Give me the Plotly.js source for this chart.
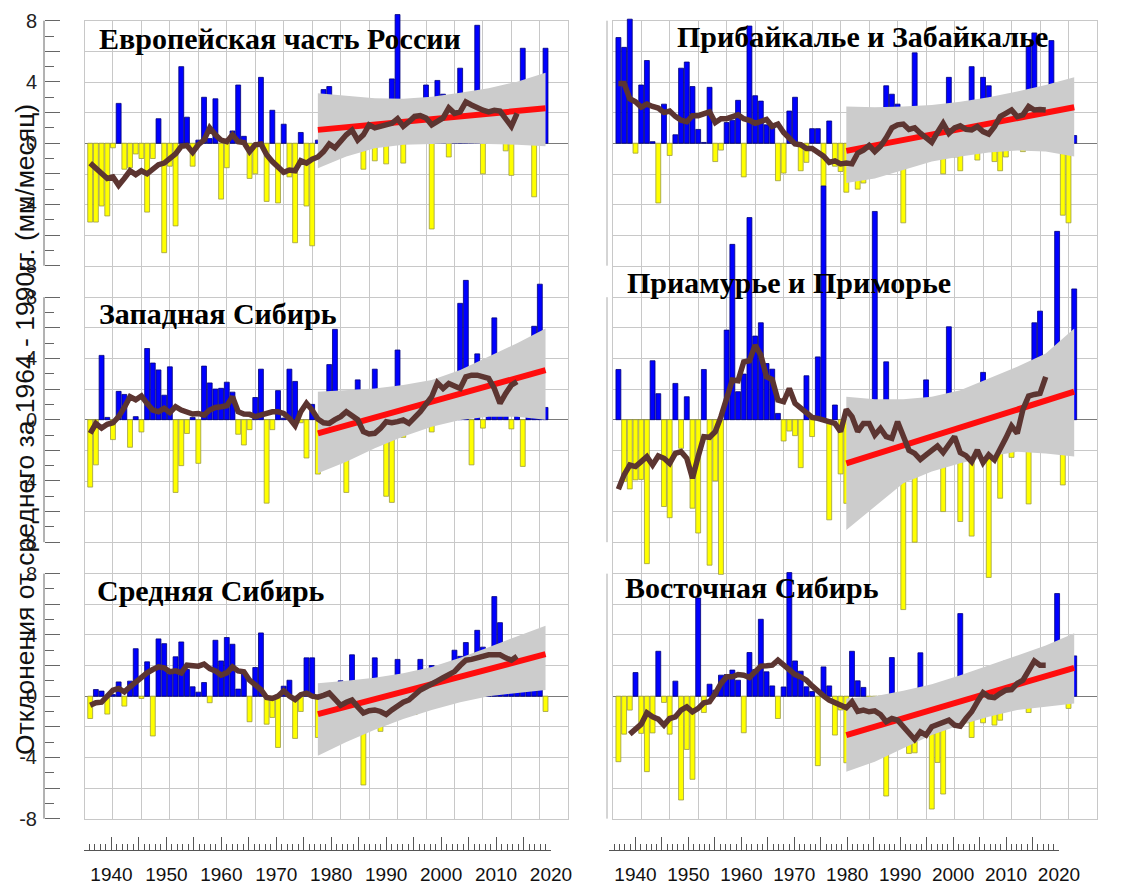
<!DOCTYPE html>
<html><head><meta charset="utf-8">
<script src="https://cdn.plot.ly/plotly-3.0.1.min.js"></script>
<style>html,body{margin:0;padding:0;background:#fff;} #chart{width:1123px;height:885px;}</style>
</head><body><div id="chart"></div>
<script>
// ---------------- DATA ----------------
const years = []; for (let y = 1936; y <= 2016; y++) years.push(y);
const maYears = []; for (let y = 1936; y <= 2011; y++) maYears.push(y);
const trendYears = [1976, 2016];
const bandYears = [1976, 1981, 1986, 1991, 1996, 2001, 2006, 2011, 2016];
const rulerLabels = [1940, 1950, 1960, 1970, 1980, 1990, 2000, 2010, 2020];

// Европейская часть России
const eurVals = [
 -5.15,-5.15,-4.1,-4.75,-0.3,2.6,-1.7,-1.6,-0.7,-1.0,
 -4.5,-1.0,1.6,-7.15,-1.5,-5.4,5.0,1.7,-1.5,0.2,
 3.0,0.3,2.9,-3.65,-1.6,0.8,3.8,0.45,-2.3,-2.0,
 4.3,-3.8,2.15,-3.9,1.24,-2.2,-6.5,0.7,-4.1,-6.7,
 0.2,3.5,3.7,-0.8,0.15,-0.3,-0.15,2.5,-1.7,-0.2,
 -1.15,0.76,-1.35,4.2,8.4,-1.3,0.1,1.2,1.7,3.8,
 -5.6,4.1,3.2,-0.9,2.1,4.9,3.15,1.35,7.7,-2.0,
 3.4,2.9,2.9,-0.5,-2.1,1.2,6.2,2.6,-3.5,1.3,
 6.2];
const eurMA = [
 -1.3,-1.6,-2.0,-2.3,-2.2,-2.75,-2.3,-1.8,-2.05,-1.8,
 -2.0,-1.7,-1.4,-1.3,-1.05,-0.7,-0.2,-0.15,-0.6,-0.1,
 0.2,1.0,0.55,0.2,0.1,0.55,0.1,0.05,-0.55,-0.1,
 -0.05,-0.75,-1.2,-1.6,-1.9,-1.75,-1.8,-1.15,-1.3,-1.05,
 -0.9,-0.55,-0.05,-0.3,0.2,0.55,0.85,0.2,0.55,1.2,
 1.0,1.1,1.15,1.3,1.6,1.1,1.4,1.75,1.8,1.65,
 1.2,1.4,1.65,2.3,1.95,2.05,2.7,2.5,2.3,2.15,
 2.05,2.15,2.1,1.65,1.1,1.95];
const eurTrend = [0.87, 2.28];
const eurHi = [3.26,3.09,2.93,2.91,3.04,3.3,3.59,4.02,4.6];
const eurLo = [-1.63,-0.87,-0.33,-0.1,-0.05,0,-0.05,-0.1,-0.2];

// Прибайкалье и Забайкалье
const pzVals = [
 6.9,6.26,8.1,-0.65,3.8,5.4,0.1,-3.9,2.55,-0.8,
 0.55,4.9,5.3,3.7,0.9,0.05,3.65,-1.2,-0.45,1.35,
 1.5,2.8,-2.2,7.65,3.1,2.75,1.2,1.2,-2.45,-1.95,
 2.1,3.0,-1.8,-1.25,0.95,0.95,-2.8,1.45,-1.5,-1.85,
 -3.2,-2.05,-3.0,-2.6,0.95,-1.6,0.6,3.75,3.2,2.55,
 -5.2,-1.15,5.9,-0.3,2.1,-0.25,-0.2,-2.0,4.3,-0.9,
 -1.8,0.2,5.0,-1.1,4.3,3.75,-1.2,-1.8,-0.9,1.1,
 2.95,-0.55,6.35,7.2,0.9,-0.45,6.7,3.2,-4.7,-5.2,
 0.5];
const pzMA = [
 3.9,3.9,2.9,2.7,2.35,2.55,2.4,2.3,2.0,2.1,
 1.75,1.5,1.4,1.8,1.8,1.9,2.05,1.35,1.6,1.6,
 1.75,1.85,1.6,1.5,1.3,1.4,1.55,1.1,1.25,0.7,
 0.35,-0.05,-0.1,-0.35,-0.35,-0.55,-0.85,-1.25,-1.15,-1.35,
 -1.3,-1.35,-0.65,-0.45,-0.15,-0.55,-0.2,0.35,1.0,1.2,
 1.25,0.9,1.0,0.65,0.3,0.05,0.7,1.3,0.65,1.0,
 1.13,0.9,0.87,1.08,0.76,0.6,1.08,1.74,1.95,2.17,
 1.74,1.85,2.4,2.17,2.2,2.17];
const pzTrend = [-0.5, 2.35];
const pzHi = [2.4,2.35,2.4,2.5,2.7,3.0,3.37,3.8,4.3];
const pzLo = [-2.6,-2.3,-1.75,-1.2,-0.87,-0.6,-0.48,-0.55,-0.87];

// Западная Сибирь
const wsVals = [
 -4.4,-2.95,4.2,0.15,-1.3,1.85,1.65,-1.8,0.2,-0.8,
 4.65,3.7,3.25,1.6,3.45,-4.75,-3.0,-0.9,0.15,-2.85,
 3.5,2.4,2.0,2.05,2.45,1.8,-0.95,-1.65,-0.65,1.45,
 3.3,-5.45,-0.65,1.9,0.1,3.3,2.5,-0.2,-2.5,1.0,
 -3.55,-1.55,3.6,5.9,-1.75,-4.75,-1.5,2.6,-0.7,0.35,
 3.3,-0.5,-5.0,-5.4,4.55,-1.15,1.3,-0.35,2.3,0.75,
 -0.8,2.05,1.7,2.05,1.3,7.6,9.1,-2.95,4.3,-0.55,
 0.35,6.65,2.15,1.2,-0.6,0.9,-3.05,3.35,6.1,8.85,
 0.8];
const wsMA = [
 -0.9,-0.25,-0.55,-0.3,-0.2,0.2,0.8,1.5,1.3,1.55,
 1.05,0.63,0.52,0.74,0.46,0.85,0.63,0.48,0.37,0.41,
 0.3,0.63,0.8,0.85,0.91,1.5,0.52,0.37,0.35,0.2,
 0.3,0.37,0.52,0.52,0.41,0.09,-0.39,0.52,1.07,0.63,
 0.05,-0.2,-0.24,0,0.2,0.52,0.3,0,-0.78,-0.93,
 -0.89,-0.57,-0.13,-0.2,-0.13,-0.02,-0.24,0.09,0.52,1.02,
 1.5,2.41,2.04,2.37,2.2,2.04,2.8,2.91,2.91,2.8,
 2.7,2.04,1.07,1.72,2.26,2.48];
const wsTrend = [-0.9, 3.24];
const wsHi = [1.83,1.93,2.04,2.26,2.59,3.24,4.1,5.0,5.96];
const wsLo = [-3.5,-2.74,-1.87,-1.1,-0.46,-0.02,0.2,0.2,0];

// Приамурье и Приморье
const ppVals = [
 3.28,-4.04,-4.52,-3.93,-3.9,-9.4,3.85,1.7,-5.67,-6.4,
 2.37,-1.87,1.5,-5.78,-7.4,3.28,-9.5,-4.0,-10.1,5.85,
 11.45,1.83,2.98,13.2,5.46,6.33,3.67,3.3,0.41,-1.39,
 -0.74,-1.04,-3.13,2.87,-1.1,4.1,15.26,-6.54,0.96,-3.54,
 -5.46,-2.67,-3.28,-4.2,-4.26,13.6,0.59,3.78,0.3,-0.8,
 -12.4,0.59,-8.0,-3.5,2.6,1.2,-0.67,-6.0,6.07,-1.98,
 -6.65,0.8,-7.6,-2.46,3.09,-10.3,-0.5,-5.13,2.04,-2.46,
 2.1,-1.65,-5.5,6.33,7.09,-0.9,3.41,12.3,-4.26,3.41,
 8.54];
const ppMA = [
 -4.54,-3.6,-2.96,-3.06,-2.74,-2.41,-2.96,-2.37,-2.52,-2.85,
 -2.2,-2.09,-2.52,-3.83,-2.41,-1.11,-1.15,-0.78,0.2,1.39,
 2.59,2.54,3.78,3.85,4.87,4.22,2.8,2.63,1.28,1.17,
 2.04,1.07,0.74,0.41,0.15,0.09,-0.02,-0.07,-0.24,-0.78,
 0.67,0.2,-0.78,-0.24,-0.24,-1.0,-0.57,-1.11,-1.22,-0.13,
 -1.0,-2.0,-2.2,-2.6,-2.3,-2.0,-1.72,-2.15,-1.6,-1.11,
 -2.15,-2.35,-2.74,-1.98,-2.8,-2.3,-2.63,-2.0,-1.2,-0.41,
 -0.89,0.67,1.54,1.65,1.72,2.8];
const ppTrend = [-2.85, 1.83];
const ppHi = [1.5,1.33,1.33,1.5,1.93,2.7,3.46,4.33,5.96];
const ppLo = [-7.2,-5.67,-4.15,-3.39,-2.85,-2.41,-2.09,-2.2,-2.41];

// Средняя Сибирь
const csVals = [
 -1.46,0.43,0.33,-1.17,0.1,0.93,-0.65,0.98,3.1,-0.15,
 2.24,-2.6,3.74,3.43,1.48,2.57,3.54,1.74,0.61,0.26,
 0.89,-0.43,3.65,2.3,3.83,3.39,0.46,1.48,-1.67,1.87,
 4.13,-1.83,-1.39,-3.35,0.65,1.04,-2.76,-1.0,2.5,2.5,
 -2.7,-1.6,0.3,-1.2,1.0,-0.8,2.7,-0.6,-5.8,-1.5,
 2.5,-2.3,-1.8,-0.5,2.4,-1.0,0.5,-1.2,2.4,-0.6,
 2.0,-0.5,1.5,-0.4,3.0,2.6,3.5,1.8,4.3,3.2,
 2.3,6.5,4.8,3.0,2.5,1.0,3.2,3.5,2.0,2.5,
 -1.0];
const csMA = [
 -0.59,-0.43,-0.39,-0.04,0.39,0.5,0.28,0.61,0.93,1.26,
 1.52,1.74,1.91,1.85,1.59,1.65,1.52,2.02,1.96,1.96,
 2.09,1.8,1.65,1.37,1.52,1.91,1.65,1.59,1.04,0.78,
 0.43,-0.09,-0.15,0,0.35,0,-0.22,0.1,0.2,0.0,
 -0.07,0.05,0.2,-0.2,-0.6,-0.4,-0.25,-0.7,-1.1,-0.95,
 -0.9,-1.0,-1.2,-0.9,-0.6,-0.4,-0.25,0.1,0.4,0.6,
 0.85,1.0,1.2,1.4,1.6,2.0,2.35,2.4,2.5,2.6,
 2.7,2.7,2.7,2.5,2.35,2.6];
const csTrend = [-1.17, 2.74];
const csHi = [0.85,1.0,1.2,1.5,1.9,2.5,3.2,3.9,4.6];
const csLo = [-3.9,-3.0,-2.2,-1.5,-0.9,-0.4,0.0,0.2,0.4];

// Восточная Сибирь
const esVals = [
 -4.28,-2.48,-0.91,1.54,-2.43,-4.93,-2.4,2.93,-0.41,-2.48,
 0.98,-6.78,-3.48,-5.43,6.41,-1.07,0.78,0.39,1.37,1.41,
 1.7,1.04,-2.39,2.85,1.74,5.02,1.59,0.67,-1.46,0.6,
 8.07,2.3,1.63,0.61,0.3,-4.54,1.91,0.67,-2.54,-0.9,
 -4.35,2.93,1.0,0.57,-2.59,-0.48,-0.7,-6.52,2.52,-0.7,
 -0.5,-3.74,-3.7,2.83,0.22,-7.37,-4.33,-6.39,-0.8,-1.13,
 5.39,-1.74,-2.7,-0.96,-1.74,-0.5,-1.89,-1.57,2.28,2.17,
 2.52,2.09,-1.07,1.8,-0.59,2.78,2.61,6.7,3.54,-0.8,
 2.63];
const esMA = [
 null,null,-2.48,-2.1,-1.83,-1.09,-1.35,-1.5,-1.89,-1.46,
 -1.35,-0.91,-0.7,-1.02,-0.8,-0.43,-0.37,0.17,0.83,1.26,
 1.26,1.41,1.37,1.22,1.59,1.96,1.98,2.02,2.35,2.02,
 1.65,1.41,1.26,1.04,0.67,0.28,0.02,-0.26,-0.41,-0.59,
 -0.76,-0.37,-1.0,-0.91,-1.02,-0.96,-1.2,-1.67,-1.46,-1.57,
 -2.0,-2.43,-2.83,-2.33,-2.54,-2.0,-1.83,-1.74,-1.57,-1.89,
 -1.96,-1.46,-1.02,-0.37,0.22,-0.04,-0.09,0.17,0.39,0.43,
 0.83,1.04,1.7,2.3,2.02,2.02];
const esTrend = [-2.54, 1.85];
const esHi = [-0.15,0,0.35,0.78,1.37,2.0,2.67,3.3,4.1];
const esLo = [-4.93,-4.28,-3.41,-2.54,-1.89,-1.35,-0.91,-0.7,-0.48];

const yTitle = 'Отклонения от среднего за 1964 - 1990гг. (мм/месяц)';

// ---------------- LAYOUT HELPERS ----------------
const W = 1123, H = 885;
const fx = p => p / W;
const fy = p => 1 - p / H;
const U = 15.3125;                       // px per unit
const colL = [fx(84.5), fx(568.3)], colR = [fx(612.7), fx(1097)];
// zero-line pixel rows and drawable ranges (bars may overflow the 8..-8 frame)
const rows = {
  T: {zero: 143.2,  range: [-12, 9.3]},
  M: {zero: 419.7,  range: [-13, 16]},
  B: {zero: 696.15, range: [-12.3, 12]}
};
function rowDomain(r) { return [fy(r.zero - r.range[0] * U), fy(r.zero - r.range[1] * U)]; }
function framePx(r) { return [r.zero - 8 * U, r.zero + 8 * U]; }

const BLUE = '#0000ff', BLUE_EDGE = '#00007a', YEL = '#ffff00', YEL_EDGE = '#9c9c44';
const BROWN = '#5c3531', RED = '#ff0d0d', BAND = '#cccccc', GRID = '#c8c8c8';

const panels = [
 {n:3, title:'Европейская часть России', vals:eurVals, ma:eurMA, trend:eurTrend, hi:eurHi, lo:eurLo, col:colL, row:rows.T, left:true,  tpos:[97, 38]},
 {n:4, title:'Западная Сибирь',          vals:wsVals,  ma:wsMA,  trend:wsTrend,  hi:wsHi,  lo:wsLo,  col:colL, row:rows.M, left:true,  tpos:[97, 313]},
 {n:5, title:'Средняя Сибирь',           vals:csVals,  ma:csMA,  trend:csTrend,  hi:csHi,  lo:csLo,  col:colL, row:rows.B, left:true,  tpos:[95, 590]},
 {n:6, title:'Прибайкалье и Забайкалье', vals:pzVals,  ma:pzMA,  trend:pzTrend,  hi:pzHi,  lo:pzLo,  col:colR, row:rows.T, left:false, tpos:[675, 37]},
 {n:7, title:'Восточная Сибирь',         vals:esVals,  ma:esMA,  trend:esTrend,  hi:esHi,  lo:esLo,  col:colR, row:rows.B, left:false, tpos:[623, 587]},
 {n:8, title:'Приамурье и Приморье',     vals:ppVals,  ma:ppMA,  trend:ppTrend,  hi:ppHi,  lo:ppLo,  col:colR, row:rows.M, left:false, tpos:[625, 283]}
];

const traces = [];
const layout = {
  width: W, height: H,
  margin: {l:0, r:0, t:0, b:0},
  paper_bgcolor: '#ffffff', plot_bgcolor: 'rgba(0,0,0,0)',
  showlegend: false,
  font: {family: 'Liberation Sans, Arial, sans-serif', color: '#111'},
  annotations: [], shapes: []
};

// background grids (one per column)
[[1, colL], [2, colR]].forEach(([k, dom]) => {
  const xs = k === 1 ? 'x' : 'x' + k, ys = k === 1 ? 'y' : 'y' + k;
  const xk = k === 1 ? 'xaxis' : 'xaxis' + k, yk = k === 1 ? 'yaxis' : 'yaxis' + k;
  traces.push({type:'scatter', x:[1935], y:[0], mode:'markers', marker:{opacity:0}, xaxis:xs, yaxis:ys, hoverinfo:'skip'});
  layout[xk] = {domain: dom, range:[1935, 2020], anchor: ys, tick0:1935, dtick:5, showgrid:true, gridcolor:GRID, gridwidth:1,
    showticklabels:false, ticks:'', zeroline:false, showline:true, mirror:true, linecolor:GRID, fixedrange:true};
  layout[yk] = {domain: [fy(819), fy(20.7)], range:[0, 26], anchor: xs, tick0:0, dtick:1, showgrid:true, gridcolor:GRID, gridwidth:1,
    showticklabels:false, ticks:'', zeroline:false, showline:true, mirror:true, linecolor:GRID, fixedrange:true};
});

const yTickVals = [-8,-6,-4,-2,0,2,4,6,8];
const yTickText = ['-8','','-4','','0','','4','','8'];

panels.forEach(p => {
  const xs = 'x' + p.n, ys = 'y' + p.n;
  traces.push({type:'scatter', x:bandYears, y:p.lo, mode:'lines', line:{width:0, color:'rgba(0,0,0,0)'}, xaxis:xs, yaxis:ys, hoverinfo:'skip'});
  traces.push({type:'scatter', x:bandYears, y:p.hi, mode:'lines', line:{width:0, color:'rgba(0,0,0,0)'}, fill:'tonexty', fillcolor:BAND, xaxis:xs, yaxis:ys, hoverinfo:'skip'});
  traces.push({type:'bar', x:years, y:p.vals, width:0.86, xaxis:xs, yaxis:ys,
    marker:{color:p.vals.map(v => v >= 0 ? BLUE : YEL), line:{color:p.vals.map(v => v >= 0 ? BLUE_EDGE : YEL_EDGE), width:0.8}}});
  traces.push({type:'scatter', x:trendYears, y:p.trend, mode:'lines', line:{color:RED, width:6}, xaxis:xs, yaxis:ys});
  traces.push({type:'scatter', x:maYears, y:p.ma, mode:'lines', line:{color:BROWN, width:5.5}, xaxis:xs, yaxis:ys, connectgaps:false});

  layout['xaxis' + p.n] = {domain:p.col, range:[1935, 2020], anchor:ys, visible:false, fixedrange:true};
  const ya = {domain:rowDomain(p.row), range:p.row.range, showgrid:false, zeroline:true, zerolinecolor:'#7a7a7a', zerolinewidth:1,
    showline:false, fixedrange:true};
  const fr = framePx(p.row);
  if (p.left) {
    Object.assign(ya, {anchor:'free', position:fx(44), side:'left',
      ticks:'inside', ticklen:15, tickcolor:'#666', tickwidth:1, tickmode:'array', tickvals:yTickVals, ticktext:yTickText,
      ticklabelstandoff:7, tickfont:{size:20, color:'#222', family:'Liberation Sans, Arial, sans-serif'},
      minor:{tickvals:[-7,-5,-3,-1,1,3,5,7], ticks:'inside', ticklen:9, tickcolor:'#666', tickwidth:1, showgrid:false}});
    layout.shapes.push({type:'line', xref:'paper', yref:'paper', x0:fx(44), x1:fx(44), y0:fy(fr[0]), y1:fy(fr[1]),
      line:{color:'#666', width:1}});
  } else {
    Object.assign(ya, {anchor:xs, ticks:'', showticklabels:false});
    layout.shapes.push({type:'line', xref:'paper', yref:'paper', x0:fx(607), x1:fx(607), y0:fy(fr[0]), y1:fy(fr[1]),
      line:{color:'#aaaaaa', width:1}});
  }
  layout['yaxis' + p.n] = ya;

  layout.annotations.push({text:'<b>' + p.title + '</b>', xref:'paper', yref:'paper', x:fx(p.tpos[0]), y:fy(p.tpos[1]),
    xanchor:'left', yanchor:'middle', showarrow:false,
    font:{family:'Liberation Serif, Times New Roman, serif', size:30, color:'#000'}});
});

// bottom rulers
const rulerTickVals = [], rulerTickText = [];
for (let y = 1935; y <= 2020; y += 5) { rulerTickVals.push(y); rulerTickText.push(rulerLabels.includes(y) ? String(y) : ''); }
[[9, [fx(84), fx(551)]], [10, [fx(609), fx(1059)]]].forEach(([k, dom]) => {
  traces.push({type:'scatter', x:[1935], y:[0], mode:'markers', marker:{opacity:0}, xaxis:'x' + k, yaxis:'y' + k, hoverinfo:'skip'});
  layout['xaxis' + k] = {domain:dom, range:[1935, 2020], anchor:'y' + k, side:'bottom', showgrid:false, zeroline:false,
    showline:true, linecolor:'#555', linewidth:1, ticks:'inside', ticklen:13, tickcolor:'#555', tickwidth:1,
    tickmode:'array', tickvals:rulerTickVals, ticktext:rulerTickText, ticklabelstandoff:8,
    tickfont:{size:19, color:'#111', family:'Liberation Sans, Arial, sans-serif'},
    minor:{dtick:1, tick0:1935, ticks:'inside', ticklen:6, tickcolor:'#555', tickwidth:1, showgrid:false}, fixedrange:true};
  layout['yaxis' + k] = {domain:[fy(849.5), fy(848.5)], range:[0, 1], anchor:'x' + k, visible:false, fixedrange:true};
});

layout.annotations.push({text:yTitle, xref:'paper', yref:'paper', x:fx(25), y:fy(430), textangle:-90,
  xanchor:'center', yanchor:'middle', showarrow:false, font:{size:26.5, color:'#111', family:'Liberation Sans, Arial, sans-serif'}});

Plotly.newPlot('chart', traces, layout, {staticPlot:true, displayModeBar:false});
</script></body></html>
